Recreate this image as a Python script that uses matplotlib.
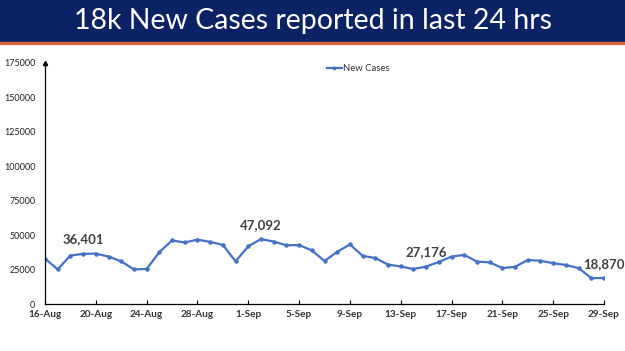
import numpy as np
import pandas as pd
import matplotlib
matplotlib.use("Agg")
import matplotlib.pyplot as plt
from matplotlib.patches import Rectangle

plt.rcParams['font.family'] = ['Lato', 'DejaVu Sans']

dates = pd.date_range('2021-08-16', '2021-09-29')
new_cases = [32937, 25166, 35178, 36401, 36571, 34457, 30948, 25072, 25467, 37593,
             46164, 44658, 46759, 45083, 42909, 30941, 41965, 47092, 45352, 42618,
             42766, 38948, 31222, 37875, 43263, 34973, 33376, 28591, 27254, 25404,
             27176, 30570, 34403, 35662, 30773, 30256, 26115, 26964, 31923, 31382,
             29616, 28326, 26041, 18795, 18870]
labelled = ['2021-08-19', '2021-09-02', '2021-09-15', '2021-09-29']
y_ticks = [0, 25000, 50000, 75000, 100000, 125000, 150000, 175000]

fig = plt.figure(figsize=(6.25, 3.51), dpi=100)

# title banner
fig.patches.append(Rectangle((0, 1 - 42/351), 1, 42/351, transform=fig.transFigure,
                             color='#0b2265', zorder=0))
fig.patches.append(Rectangle((0, 1 - 44/351), 1, 2/351, transform=fig.transFigure,
                             color='#d9683c', zorder=0))
fig.text(0.5, 1 - 21/351, '18k New Cases reported in last 24 hrs', color='white',
         fontsize=20.5, ha='center', va='center')

ax = fig.add_axes([45/625, 1 - 304/351, 559/625, 241/351])
ax.plot(dates, new_cases, color='#4472c4', lw=1.6, marker='o', ms=2.2, label='New Cases')

for d in labelled:
    d = pd.Timestamp(d)
    v = new_cases[list(dates).index(d)]
    ax.annotate(f'{v:,}', (d, v), xytext=(0, 6), textcoords='offset points',
                ha='center', va='bottom', fontsize=9.5, fontweight='bold', color='#404040')

ax.set_xlim(dates[0], dates[-1])
ax.set_ylim(0, 175000)
ax.set_yticks(y_ticks)
ax.set_yticklabels([str(t) for t in y_ticks], fontsize=6.5, color='#222222')
ax.tick_params(axis='y', length=0, pad=7)
ax.set_xticks(dates[::4])
ax.set_xticklabels([f'{d.day}-{d.strftime("%b")}' for d in dates[::4]],
                   fontsize=7.2, fontweight='bold', color='#333333')
ax.tick_params(axis='x', direction='in', length=3, pad=4)
for s in ['top', 'right']:
    ax.spines[s].set_visible(False)
for s in ['left', 'bottom']:
    ax.spines[s].set_linewidth(0.9)
ax.plot(0, 1, '^k', ms=3, transform=ax.transAxes, clip_on=False)

leg = ax.legend(loc='upper center', bbox_to_anchor=(0.56, 1.03), frameon=False, fontsize=6.8,
                handlelength=1.6, handletextpad=0.1, markerscale=0.8)
for t in leg.get_texts():
    t.set_color('#333333')

fig.savefig('out.png', dpi=100)
